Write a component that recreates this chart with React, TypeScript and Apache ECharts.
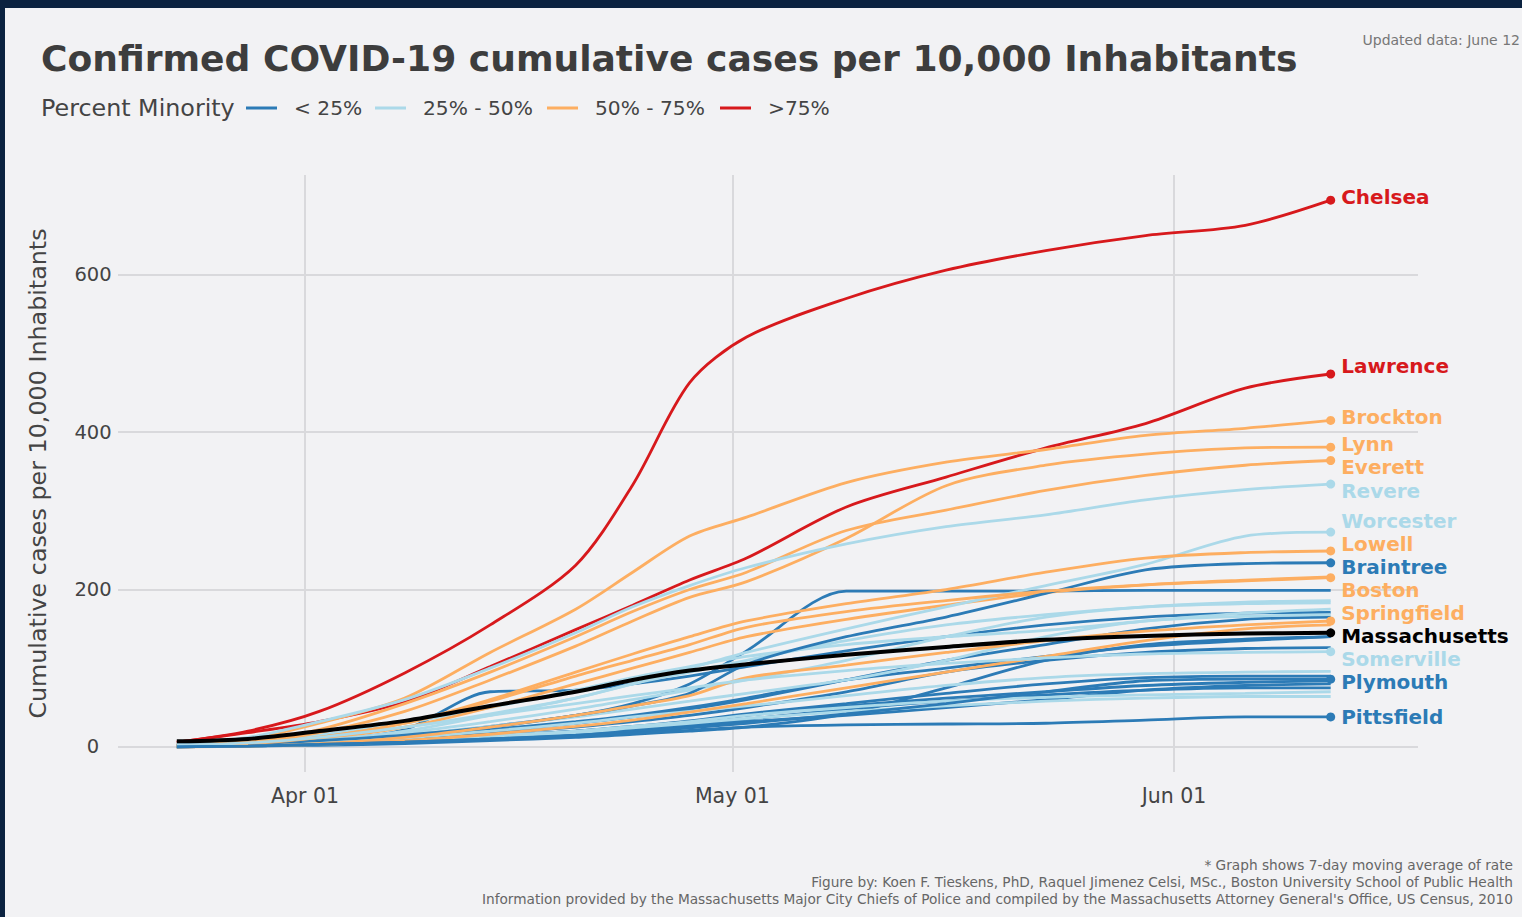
import React, { useEffect, useRef } from "react";
import * as echarts from "echarts";

// ---------- data ----------
const DATES = [
  "2020-03-23", "2020-03-28", "2020-04-02", "2020-04-08", "2020-04-14",
  "2020-04-20", "2020-04-24", "2020-04-28", "2020-05-02", "2020-05-09",
  "2020-05-16", "2020-05-23", "2020-05-30", "2020-06-06", "2020-06-12",
];
const TICK_DATES = ["2020-04-01", "2020-05-01", "2020-06-01"];
const TICK_LABELS = ["Apr 01", "May 01", "Jun 01"];
const Y_TICKS = [0, 200, 400, 600];

const GROUP_NAMES = ["< 25%", "25% - 50%", "50% - 75%", ">75%"];
const GROUP_COLORS = ["#2c7bb6", "#abd9e9", "#fdae61", "#d7191c"];
const STATE_COLOR = "#000000";

// labelled towns
const CHELSEA = [6, 20, 45, 94, 155, 231, 333, 463, 521, 570, 606, 631, 650, 663, 695];
const LAWRENCE = [6, 18, 32, 57, 102, 149, 180, 212, 240, 305, 343, 380, 411, 456, 474];
const BROCKTON = [3, 10, 30, 62, 120, 175, 222, 268, 292, 336, 362, 378, 396, 405, 415];
const LYNN = [2, 6, 18, 45, 85, 128, 160, 190, 210, 265, 332, 358, 372, 380, 381];
const EVERETT = [2, 7, 22, 55, 95, 140, 172, 200, 222, 275, 301, 326, 345, 358, 364];
const REVERE = [4, 12, 32, 60, 100, 145, 178, 205, 228, 258, 280, 295, 314, 327, 334];
const WORCESTER = [1, 3, 8, 20, 40, 62, 80, 100, 120, 150, 178, 205, 232, 268, 273];
const LOWELL = [1, 4, 12, 30, 60, 95, 118, 140, 160, 182, 200, 222, 240, 247, 249];
const BRAINTREE = [2, 4, 8, 15, 25, 40, 52, 68, 105, 140, 165, 195, 225, 233, 234];
const BOSTON = [1, 4, 12, 30, 58, 90, 110, 130, 152, 172, 186, 198, 206, 211, 215];
const SPRINGFIELD = [0, 1, 4, 12, 25, 40, 52, 65, 88, 104, 120, 135, 147, 155, 160];
const MASSACHUSETTS = [7, 10, 20, 33, 52, 70, 85, 97, 105, 117, 127, 136, 141, 144, 145];
const SOMERVILLE = [2, 5, 12, 25, 40, 55, 65, 75, 85, 97, 106, 113, 118, 120, 121];
const PLYMOUTH = [0, 1, 3, 6, 10, 15, 19, 24, 30, 42, 55, 70, 84, 86, 86];
const PITTSFIELD = [0, 1, 3, 6, 10, 14, 17, 21, 25, 28, 29, 30, 34, 38, 38];

// unlabelled towns
const BLUE_OTHERS = [
  [1, 3, 7, 14, 26, 40, 55, 80, 122, 198, 198, 198, 199, 199, 199],
  [1, 3, 8, 22, 70, 72, 80, 90, 102, 122, 140, 155, 165, 170, 171],
  [1, 3, 6, 12, 20, 30, 38, 48, 60, 85, 110, 130, 150, 162, 165],
  [2, 4, 8, 14, 22, 32, 40, 50, 62, 85, 100, 115, 128, 135, 140],
  [1, 2, 5, 10, 17, 25, 32, 40, 50, 70, 95, 110, 120, 125, 126],
  [1, 2, 4, 8, 14, 20, 26, 33, 42, 55, 68, 80, 88, 90, 90],
  [0, 1, 3, 6, 10, 15, 20, 26, 32, 40, 50, 60, 72, 78, 80],
  [0, 1, 3, 6, 11, 16, 22, 28, 35, 48, 58, 66, 72, 75, 75],
  [1, 2, 5, 9, 14, 20, 25, 32, 40, 52, 62, 70, 78, 82, 84],
  [0, 1, 2, 4, 8, 12, 16, 20, 25, 42, 75, 110, 130, 137, 140],
];
const LIGHTBLUE_OTHERS = [
  [2, 5, 12, 25, 42, 62, 80, 95, 110, 135, 155, 168, 178, 184, 186],
  [1, 3, 8, 18, 32, 48, 60, 72, 85, 110, 140, 165, 178, 182, 183],
  [1, 3, 7, 15, 26, 38, 48, 58, 68, 85, 110, 140, 160, 166, 168],
  [1, 2, 5, 11, 20, 30, 38, 45, 52, 65, 78, 88, 93, 95, 96],
  [1, 2, 4, 8, 14, 20, 26, 32, 40, 50, 58, 63, 66, 68, 70],
  [0, 1, 3, 7, 12, 18, 24, 30, 36, 45, 52, 58, 62, 64, 64],
  [2, 6, 15, 30, 50, 72, 88, 102, 115, 130, 140, 148, 160, 170, 175],
];
const ORANGE_OTHERS = [
  [1, 3, 10, 25, 50, 80, 100, 120, 140, 162, 180, 196, 206, 212, 216],
  [0, 1, 3, 8, 16, 26, 34, 44, 55, 75, 95, 115, 135, 150, 155],
];

type Town = { name: string; group: number; values: number[]; labelDy?: number };

const LABELLED: Town[] = [
  { name: "Chelsea", group: 3, values: CHELSEA, labelDy: -3 },
  { name: "Lawrence", group: 3, values: LAWRENCE, labelDy: -8 },
  { name: "Brockton", group: 2, values: BROCKTON, labelDy: -3 },
  { name: "Lynn", group: 2, values: LYNN, labelDy: -3 },
  { name: "Everett", group: 2, values: EVERETT, labelDy: 6 },
  { name: "Revere", group: 1, values: REVERE, labelDy: 7 },
  { name: "Worcester", group: 1, values: WORCESTER, labelDy: -11 },
  { name: "Lowell", group: 2, values: LOWELL, labelDy: -7 },
  { name: "Braintree", group: 0, values: BRAINTREE, labelDy: 4 },
  { name: "Boston", group: 2, values: BOSTON, labelDy: 12 },
  { name: "Springfield", group: 2, values: SPRINGFIELD, labelDy: -8 },
  { name: "Somerville", group: 1, values: SOMERVILLE, labelDy: 7 },
  { name: "Plymouth", group: 0, values: PLYMOUTH, labelDy: 3 },
  { name: "Pittsfield", group: 0, values: PITTSFIELD, labelDy: 0 },
];
const STATE_LABEL_DY = 3;

const FOOTER = [
  "* Graph shows 7-day moving average of rate",
  "Figure by: Koen F. Tieskens, PhD, Raquel Jimenez Celsi, MSc., Boston University School of Public Health",
  "Information provided by the Massachusetts Major City Chiefs of Police and compiled by the Massachusetts Attorney General's Office, US Census, 2010",
];

const FONT = "DejaVu Sans";
const DAY = 86400000;
// day number relative to Apr 1 2020
const dayOf = (s: string) => {
  const [y, m, d] = s.split("-").map(Number);
  return Math.round((Date.UTC(y, m - 1, d) - Date.UTC(2020, 3, 1)) / DAY);
};

export default function App() {
  const ref = useRef<HTMLDivElement>(null);

  useEffect(() => {
    document.body.style.margin = "0";
    if (!ref.current) return;
    const chart = echarts.init(ref.current, undefined, { renderer: "svg" });

    const makeSeries = (t: Town, color: string, width: number, z: number) => {
      const data = DATES.map((d, i) => [dayOf(d), t.values[i]]);
      const s: any = {
        type: "line",
        name: t.name,
        data,
        showSymbol: false,
        symbol: "none",
        smooth: 0.3,
        z,
        lineStyle: { color, width },
        emphasis: { disabled: true },
        silent: true,
      };
      if (t.labelDy !== undefined) {
        const last = data[data.length - 1];
        s.markPoint = {
          silent: true,
          symbol: "circle",
          symbolSize: 9,
          itemStyle: { color },
          data: [{ coord: last }],
          label: {
            show: true,
            position: "right",
            distance: 6,
            offset: [0, t.labelDy],
            formatter: t.name,
            color,
            fontSize: 20,
            fontWeight: "bold",
            fontFamily: FONT,
          },
        };
      }
      return s;
    };

    const series: any[] = [];
    BLUE_OTHERS.forEach((v, i) => series.push(makeSeries({ name: "b" + i, group: 0, values: v }, GROUP_COLORS[0], 2.8, 2)));
    LIGHTBLUE_OTHERS.forEach((v, i) => series.push(makeSeries({ name: "lb" + i, group: 1, values: v }, GROUP_COLORS[1], 2.8, 2)));
    ORANGE_OTHERS.forEach((v, i) => series.push(makeSeries({ name: "o" + i, group: 2, values: v }, GROUP_COLORS[2], 2.8, 2)));
    LABELLED.forEach((t) => series.push(makeSeries(t, GROUP_COLORS[t.group], 2.8, 3)));
    series.push(
      makeSeries({ name: "Massachusetts", group: -1, values: MASSACHUSETTS, labelDy: STATE_LABEL_DY }, STATE_COLOR, 4, 5)
    );

    // legend drawn with graphic elements
    const legendX = [246, 375, 547, 720];
    const legendG: any[] = [
      {
        type: "text",
        x: 41,
        y: 108,
        style: { text: "Percent Minority", fill: "#444", font: `23.8px "${FONT}"`, verticalAlign: "middle" },
      },
    ];
    GROUP_NAMES.forEach((g, i) => {
      legendG.push({
        type: "line",
        shape: { x1: legendX[i], y1: 108, x2: legendX[i] + 31, y2: 108 },
        style: { stroke: GROUP_COLORS[i], lineWidth: 3 },
      });
      legendG.push({
        type: "text",
        x: legendX[i] + 48,
        y: 108,
        style: { text: g, fill: "#444", font: `20.2px "${FONT}"`, verticalAlign: "middle" },
      });
    });

    const footerG = FOOTER.map((t, i) => ({
      type: "text",
      x: 1513,
      y: 865 + i * 17,
      style: {
        text: t,
        fill: "#666",
        font: `13.7px "${FONT}"`,
        align: "right",
        verticalAlign: "middle",
      },
    }));

    const tickDays = TICK_DATES.map(dayOf);

    chart.setOption({
      animation: false,
      backgroundColor: "#f2f2f4",
      title: {
        text: "Confirmed COVID-19 cumulative cases per 10,000 Inhabitants",
        left: 41,
        top: 41,
        padding: 0,
        textStyle: { fontSize: 36.1, fontWeight: "bold", color: "#3d3d3d", fontFamily: FONT },
      },
      grid: { left: 118, right: 104, top: 175, bottom: 145, outerBoundsMode: "none" },
      xAxis: {
        type: "value",
        min: -13.13,
        max: 78.13,
        axisLine: { show: false },
        axisTick: { show: false, customValues: tickDays },
        axisLabel: {
          customValues: tickDays,
          formatter: (v: number) => TICK_LABELS[tickDays.indexOf(Math.round(v))] ?? "",
          color: "#444",
          fontSize: 20.5,
          fontFamily: FONT,
          margin: 13,
        },
        splitLine: { show: true, lineStyle: { color: "#d9d9dc", width: 2 } },
      },
      yAxis: {
        type: "value",
        min: -32,
        max: 727,
        name: "Cumulative cases per 10,000 Inhabitants",
        nameLocation: "middle",
        nameRotate: 90,
        nameGap: 68,
        nameTextStyle: { fontSize: 23.8, color: "#444", fontFamily: FONT },
        axisLine: { show: false },
        axisTick: { show: false, customValues: Y_TICKS },
        axisLabel: {
          customValues: Y_TICKS,
          color: "#444",
          fontSize: 19.5,
          fontFamily: FONT,
          align: "center",
          margin: 25,
        },
        splitLine: { show: true, lineStyle: { color: "#d9d9dc", width: 2 } },
      },
      graphic: [
        { type: "rect", shape: { x: 0, y: 0, width: 1522, height: 8 }, style: { fill: "#0b2240" }, z: 100 },
        { type: "rect", shape: { x: 0, y: 0, width: 5, height: 917 }, style: { fill: "#0b2240" }, z: 100 },
        {
          type: "text",
          x: 1520,
          y: 40,
          style: { text: "Updated data: June 12", fill: "#777", font: `14px "${FONT}"`, align: "right", verticalAlign: "middle" },
        },
        ...legendG,
        ...footerG,
      ],
      series,
    });

    return () => chart.dispose();
  }, []);

  return <div ref={ref} style={{ width: 1522, height: 917 }} />;
}
